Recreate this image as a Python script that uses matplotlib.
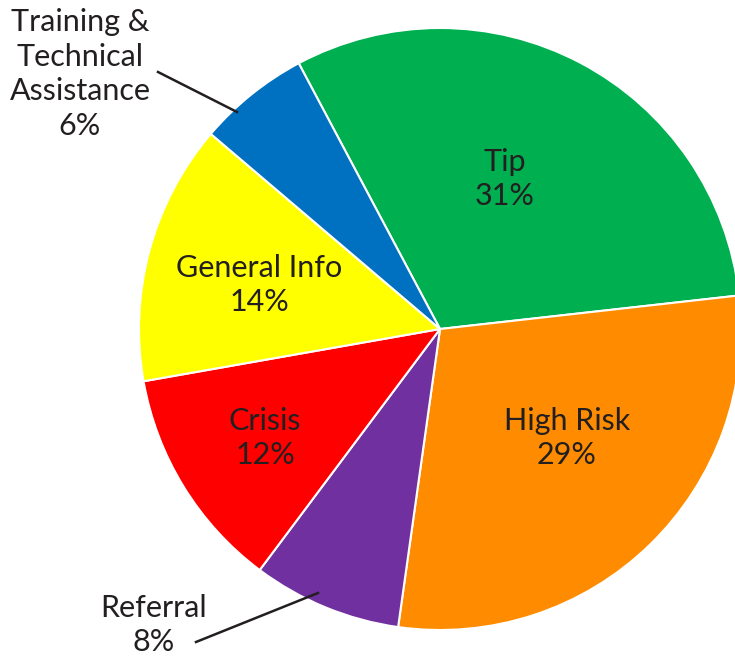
import matplotlib.pyplot as plt

# Répartition des appels par catégorie
categories = ["Tip", "High Risk", "Referral", "Crisis", "General Info",
              "Training &\nTechnical\nAssistance"]
percents = [31, 29, 8, 12, 14, 6]
colors = ["#00b050", "#ff8c00", "#7030a0", "#ff0000", "#ffff00", "#0070c0"]

# position des étiquettes (en pixels, y vers le haut)
label_pos = [(505, 478), (567, 219), (154, 32), (265, 219), (259, 372), (80, 583)]

W, H = 735, 657
fig = plt.figure(figsize=(W / 100, H / 100), dpi=100)
ax = fig.add_axes([0, 0, 1, 1])

ax.pie(percents, colors=colors, startangle=118, counterclock=False,
       center=(440, 328), radius=301, frame=True,
       wedgeprops=dict(edgecolor="white", linewidth=1.5))
ax.set_xlim(0, W)
ax.set_ylim(0, H)
ax.axis("off")

for name, p, (x, y) in zip(categories, percents, label_pos):
    ax.text(x, y, f"{name}\n{p}%", ha="center", va="center", fontsize=22,
            family="Lato", color="#231f20", linespacing=1.28)

# traits de rappel
ax.plot([158, 237], [H - 72, H - 112], color="#231f20", lw=1.8)
ax.plot([196, 318], [H - 642, H - 593], color="#231f20", lw=1.8)

fig.savefig("out.png", dpi=100)
